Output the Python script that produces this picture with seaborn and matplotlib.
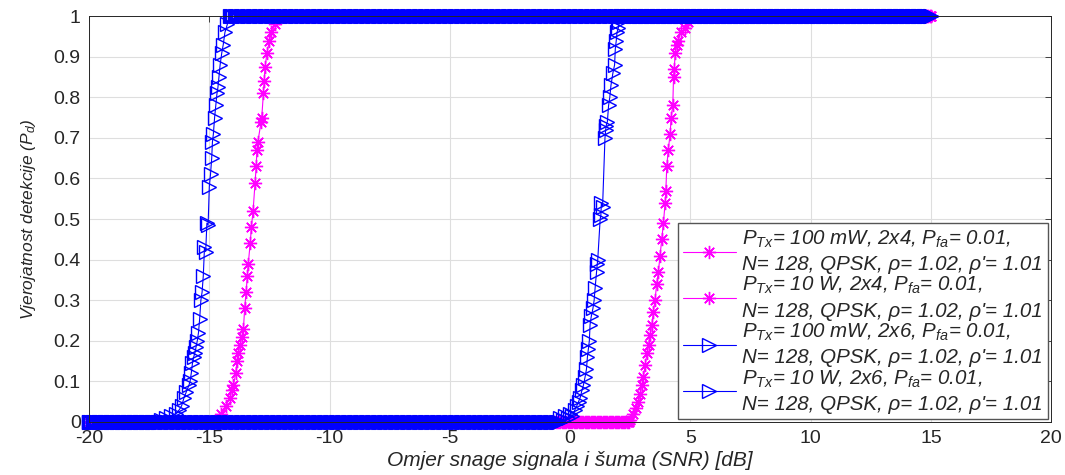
import numpy as np
import pandas as pd
import matplotlib
matplotlib.use("Agg")
import matplotlib.pyplot as plt
import seaborn as sns

# transition parts of the curves; flat parts are 0 before and 1 after
m100_x = [2.5, 2.63, 2.75, 2.84, 2.92, 2.98, 3.05, 3.12, 3.2, 3.26, 3.33, 3.4, 3.46, 3.53, 3.6,
          3.67, 3.74, 3.81, 3.88, 3.95, 3.98, 4.02, 4.08, 4.16, 4.2, 4.27, 4.3, 4.33, 4.37, 4.45,
          4.5, 4.6, 4.78, 4.9]
m100_y = [0.005, 0.02, 0.035, 0.05, 0.07, 0.09, 0.11, 0.14, 0.17, 0.19, 0.215, 0.24, 0.27, 0.3, 0.34,
          0.37, 0.41, 0.45, 0.49, 0.54, 0.57, 0.63, 0.67, 0.71, 0.75, 0.78, 0.85, 0.87, 0.91, 0.93,
          0.94, 0.96, 0.97, 0.985]

m10_x = [-14.6, -14.5, -14.3, -14.15, -14.05, -14.0, -13.9, -13.85, -13.8, -13.72, -13.65, -13.58,
         -13.53, -13.47, -13.42, -13.38, -13.3, -13.25, -13.18, -13.1, -13.05, -13.02, -12.98, -12.85,
         -12.82, -12.75, -12.72, -12.68, -12.6, -12.5, -12.42, -12.25, -12.1]
m10_y = [0.005, 0.02, 0.04, 0.06, 0.08, 0.09, 0.12, 0.15, 0.17, 0.19, 0.21, 0.23,
         0.28, 0.32, 0.36, 0.39, 0.44, 0.48, 0.52, 0.59, 0.63, 0.67, 0.69, 0.74,
         0.75, 0.81, 0.84, 0.875, 0.91, 0.94, 0.96, 0.98, 0.995]

b100_x = [-0.4, -0.3, -0.2, -0.1, 0.0, 0.1, 0.2, 0.28, 0.35, 0.42, 0.5, 0.55, 0.62, 0.68, 0.72, 0.76,
          0.8, 0.83, 0.88, 0.95, 1.0, 1.04, 1.1, 1.13, 1.15, 1.25, 1.28, 1.3, 1.35, 1.45, 1.48, 1.5,
          1.55, 1.6, 1.65, 1.7, 1.78, 1.85, 1.88, 1.92, 1.95, 2.0, 2.05]
b100_y = [0.01, 0.005, 0.015, 0.01, 0.02, 0.015, 0.03, 0.04, 0.05, 0.06, 0.08, 0.09, 0.11, 0.13, 0.16, 0.18,
          0.2, 0.24, 0.26, 0.28, 0.3, 0.33, 0.37, 0.39, 0.4, 0.5, 0.51, 0.54, 0.53, 0.7, 0.72, 0.73,
          0.74, 0.78, 0.8, 0.83, 0.86, 0.88, 0.92, 0.94, 0.96, 0.97, 0.985]

b10_x = [-17.0, -16.8, -16.6, -16.4, -16.25, -16.15, -16.05, -15.95, -15.85, -15.8, -15.75, -15.7,
         -15.65, -15.6, -15.55, -15.5, -15.45, -15.4, -15.35, -15.3, -15.25, -15.2, -15.15, -15.1,
         -15.05, -15.0, -14.95, -14.9, -14.87, -14.83, -14.78, -14.73, -14.68, -14.64, -14.6, -14.55,
         -14.48, -14.42, -14.35, -14.25, -14.15]
b10_y = [0.005, 0.01, 0.015, 0.02, 0.03, 0.04, 0.06, 0.075, 0.09, 0.1, 0.12, 0.145,
         0.16, 0.17, 0.185, 0.2, 0.22, 0.255, 0.3, 0.32, 0.36, 0.43, 0.42, 0.49,
         0.485, 0.58, 0.61, 0.65, 0.69, 0.71, 0.75, 0.78, 0.81, 0.825, 0.85, 0.88,
         0.91, 0.93, 0.96, 0.98, 1.0]

labels = [
    "$P_{Tx}$= 100 mW, 2x4, $P_{fa}$= 0.01,\nN= 128, QPSK, ρ= 1.02, ρ'= 1.01",
    "$P_{Tx}$= 10 W, 2x4, $P_{fa}$= 0.01,\nN= 128, QPSK, ρ= 1.02, ρ'= 1.01",
    "$P_{Tx}$= 100 mW, 2x6, $P_{fa}$= 0.01,\nN= 128, QPSK, ρ= 1.02, ρ'= 1.01",
    "$P_{Tx}$= 10 W, 2x6, $P_{fa}$= 0.01,\nN= 128, QPSK, ρ= 1.02, ρ'= 1.01",
]
step = 0.05  # SNR step of the simulation
x_min, x_max = -20, 15


def full_curve(xt, yt):
    lo = np.round(np.arange(x_min, xt[0] - 1e-9, step), 2)
    hi = np.round(np.arange(xt[-1] + step, x_max + 1e-9, step), 2)
    x = np.concatenate([lo, xt, hi])
    y = np.concatenate([np.zeros(len(lo)), yt, np.ones(len(hi))])
    return pd.DataFrame({"snr": x, "pd": y})


sns.set_theme(style="whitegrid")
plt.rcParams['font.family'] = ['Liberation Sans', 'DejaVu Sans']
plt.rcParams['mathtext.fontset'] = 'custom'
plt.rcParams['mathtext.rm'] = 'Liberation Sans:italic'
plt.rcParams['mathtext.it'] = 'Liberation Sans:italic'
plt.rcParams['axes.unicode_minus'] = False

fig, ax = plt.subplots(figsize=(10.65, 4.75), dpi=100)
fig.subplots_adjust(left=0.0836, right=0.987, top=0.966, bottom=0.1116)

series = [
    (m100_x, m100_y, "#ff00ff", (8, 2, 0)),
    (m10_x, m10_y, "#ff00ff", (8, 2, 0)),
    (b100_x, b100_y, "#0000ff", ">"),
    (b10_x, b10_y, "#0000ff", ">"),
]
for (xt, yt, col, mk), lab in zip(series, labels):
    df = full_curve(xt, yt)
    sns.lineplot(data=df, x="snr", y="pd", ax=ax, color=col, marker=mk, ms=9.5,
                 mec=col, mfc="none", mew=1.0, lw=0.8, sort=False, estimator=None,
                 label=lab, clip_on=False)

ax.set_xlim(-20, 20)
ax.set_ylim(0, 1)
ax.set_xticks(np.arange(-20, 21, 5))
ax.set_yticks(np.arange(0, 1.01, 0.1))
ax.set_yticklabels(["0"] + [f"{v:.1f}" for v in np.arange(0.1, 0.95, 0.1)] + ["1"])
ax.tick_params(direction="in", top=True, right=True, length=4, width=0.6,
               labelsize=14, colors="#262626", pad=6)
ax.grid(True, color="#dedede", lw=0.8)
ax.set_axisbelow(True)
for sp in ax.spines.values():
    sp.set_color("#262626")
    sp.set_linewidth(0.7)

ax.set_xlabel("Omjer snage signala i šuma (SNR) [dB]", fontsize=15, style="italic",
              color="#262626", labelpad=3)
ax.set_ylabel("Vjerojatnost detekcije ($P_d$)", fontsize=12.5, style="italic",
              color="#262626", labelpad=11)

leg = ax.legend(loc="lower right", prop={"style": "italic", "size": 14.8},
                frameon=True, fancybox=False, framealpha=1, edgecolor="#555555",
                borderaxespad=0.15, handlelength=2.6, handletextpad=0.3,
                labelspacing=0.05, borderpad=0.25)
leg.get_frame().set_linewidth(1.0)
for t in leg.get_texts():
    t.set_linespacing(1.35)

fig.savefig("out.png", dpi=100)
